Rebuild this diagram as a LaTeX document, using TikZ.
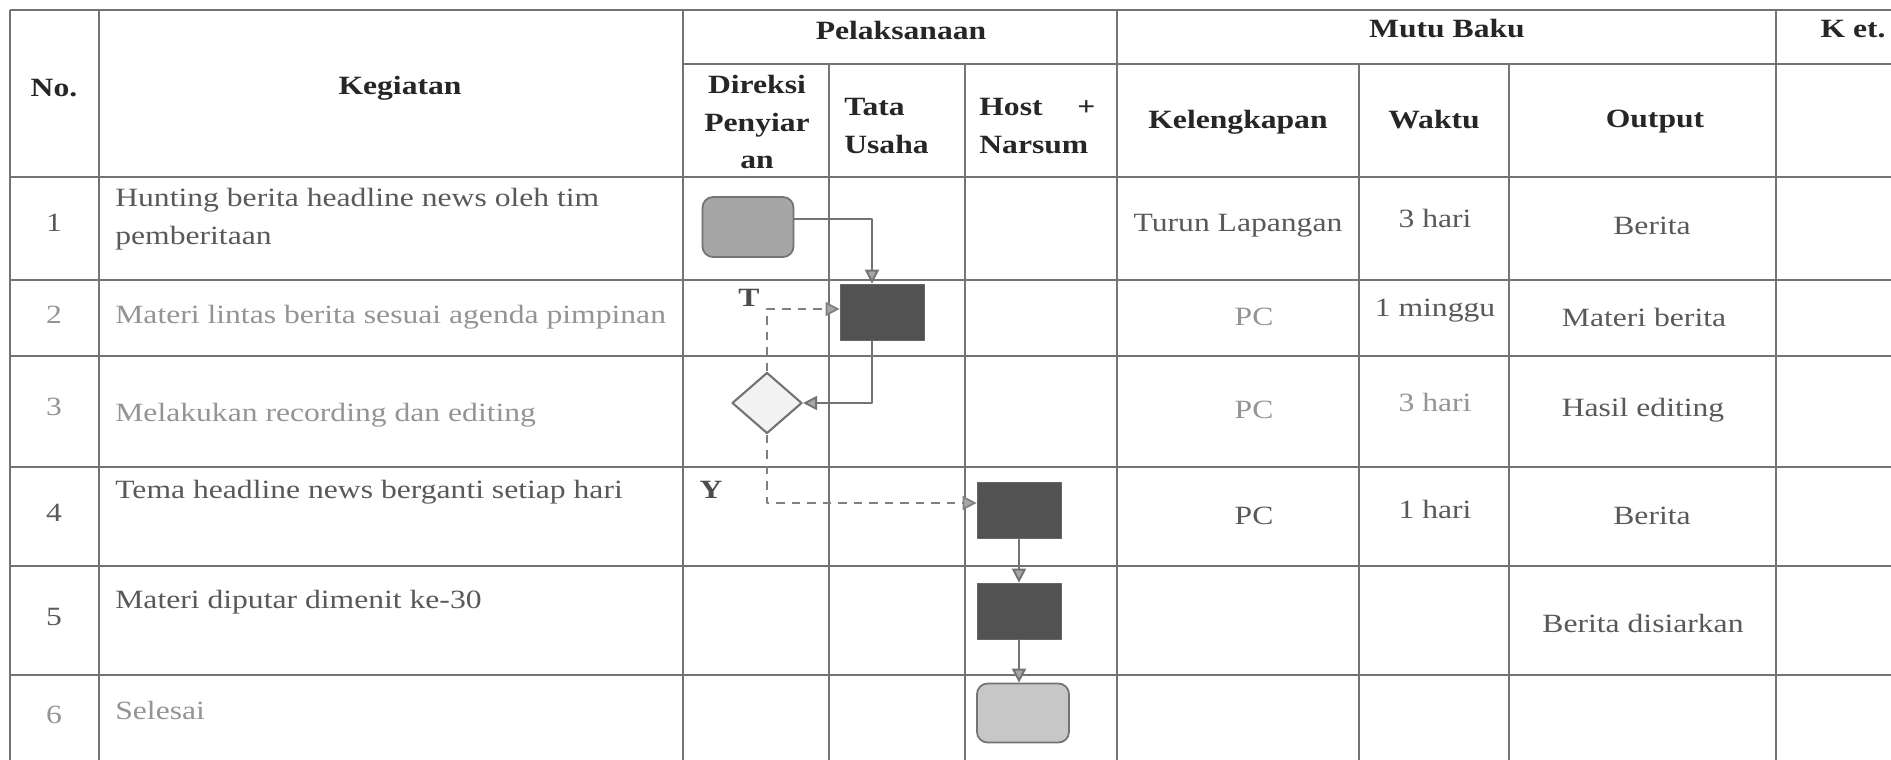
\documentclass[tikz,border=0pt]{standalone}
\usepackage{fontspec}
\setmainfont{Liberation Serif}[FakeStretch=1.2]
\usetikzlibrary{arrows.meta,shapes.geometric}

\begin{document}
\begin{tikzpicture}[x=0.02cm,y=-0.02cm,line join=round,
    font=\fontsize{15}{21.5}\selectfont,
    garis/.style={line width=0.8pt,black!55},
    judul/.style={font=\fontsize{15}{21.5}\selectfont\bfseries,text=black!85,
                  align=center,inner sep=0pt},
    teks/.style={text=black!65,inner sep=0pt},
    pudar/.style={text=black!42,inner sep=0pt},
    mulai/.style={draw=black!55,line width=1pt,rounded corners=6pt,fill=black!35,
                  minimum width=1.82cm,minimum height=1.2cm,inner sep=0pt},
    proses/.style={draw=black!60,fill=black!68,inner sep=0pt,
                   minimum width=1.68cm,minimum height=1.12cm},
    keputusan/.style={diamond,draw=black!55,line width=1.2pt,fill=black!5,inner sep=0pt,
                      minimum width=1.4cm,minimum height=1.22cm},
    akhir/.style={draw=black!55,line width=1pt,rounded corners=6pt,fill=black!22,
                  minimum width=1.84cm,minimum height=1.18cm,inner sep=0pt},
    alur/.style={line width=1.1pt,black!55,
                 -{Triangle[length=0.28cm,width=0.28cm,fill=black!35]}},
    alurputus/.style={alur,line width=1pt,black!50,dash pattern=on 0.17cm off 0.14cm}]

  \useasboundingbox (0,0) rectangle (1891,760);
  \fill[white] (0,0) rectangle (1891,760);
  \clip (0,0) rectangle (1891,760);

  % ---- garis tabel ----------------------------------------------------------
  \draw[garis] (10,10) -- (1920,10);
  \draw[garis] (683,64) -- (1920,64);
  \draw[garis] (10,177) -- (1920,177);
  \draw[garis] (10,280) -- (1920,280);
  \draw[garis] (10,356) -- (1920,356);
  \draw[garis] (10,467) -- (1920,467);
  \draw[garis] (10,566) -- (1920,566);
  \draw[garis] (10,675) -- (1920,675);

  \draw[garis] (10,10) -- (10,780);
  \draw[garis] (99,10) -- (99,780);
  \draw[garis] (683,10) -- (683,780);
  \draw[garis] (829,64) -- (829,780);
  \draw[garis] (965,64) -- (965,780);
  \draw[garis] (1117,10) -- (1117,780);
  \draw[garis] (1359,64) -- (1359,780);
  \draw[garis] (1509,64) -- (1509,780);
  \draw[garis] (1776,10) -- (1776,780);

  % ---- kepala tabel ---------------------------------------------------------
  \node[judul] (hNo)   at (54,88)    {No.};
  \node[judul] (hKeg)  at (400,88)   {Kegiatan};
  \node[judul] (hPel)  at (901,30)   {Pelaksanaan};
  \node[judul] (hMutu) at (1447,29)  {Mutu Baku};
  \node[judul] (hKet)  at (1853,29)  {K et.};
  \node[judul] (hDir)  at (757,122)  {Direksi\\Penyiar\\an};
  \node[judul,anchor=west,align=left] (hTU) at (844,126) {Tata\\Usaha};
  \node[judul,anchor=west,align=left] (hHost) at (979,126)
       {\makebox[2.32cm][l]{Host\hfill+}\\Narsum};
  \node[judul] (hKel)  at (1238,122) {Kelengkapan};
  \node[judul] (hWkt)  at (1434,120) {Waktu};
  \node[judul] (hOut)  at (1655,122) {Output};

  % ---- isi baris ------------------------------------------------------------
  \node[teks]  (no1) at (54,223) {1};
  \node[teks,anchor=west,align=left] (keg1) at (115,219)
       {Hunting berita headline news oleh tim\\pemberitaan};
  \node[teks]  (kel1) at (1238,226) {Turun Lapangan};
  \node[teks]  (wkt1) at (1435,218) {3 hari};
  \node[teks]  (out1) at (1652,226) {Berita};

  \node[pudar] (no2) at (54,315) {2};
  \node[pudar,anchor=west] (keg2) at (115,317) {Materi lintas berita sesuai agenda pimpinan};
  \node[pudar] (kel2) at (1254,317) {PC};
  \node[teks]  (wkt2) at (1435,311) {1 minggu};
  \node[teks]  (out2) at (1644,317) {Materi berita};

  \node[pudar] (no3) at (54,407) {3};
  \node[pudar,anchor=west] (keg3) at (115,415) {Melakukan recording dan editing};
  \node[pudar] (kel3) at (1254,410) {PC};
  \node[pudar] (wkt3) at (1435,402) {3 hari};
  \node[teks]  (out3) at (1643,410) {Hasil editing};

  \node[teks]  (no4) at (54,513) {4};
  \node[teks,anchor=west] (keg4) at (115,492) {Tema headline news berganti setiap hari};
  \node[teks]  (kel4) at (1254,516) {PC};
  \node[teks]  (wkt4) at (1435,509) {1 hari};
  \node[teks]  (out4) at (1652,516) {Berita};

  \node[teks]  (no5) at (54,617) {5};
  \node[teks,anchor=west] (keg5) at (115,602) {Materi diputar dimenit ke-30};
  \node[teks]  (out5) at (1643,623) {Berita disiarkan};

  \node[pudar] (no6) at (54,715) {6};
  \node[pudar,anchor=west] (keg6) at (115,710) {Selesai};

  % ---- bagan alir -----------------------------------------------------------
  \node[mulai]     (start) at (748,227)  {};
  \node[proses]    (tu)    at (882,312)  {};
  \node[keputusan] (kep)   at (767,403)  {};
  \node[proses]    (host1) at (1019,510) {};
  \node[proses]    (host2) at (1019,611) {};
  \node[akhir]     (stop)  at (1023,713) {};

  \node[judul,text=black!70] (lblT) at (749,298) {T};
  \node[judul,text=black!70] (lblY) at (711,490) {Y};

  \draw[alur] ([yshift=0.16cm]start.east) -| ([xshift=-0.2cm]tu.north);
  \draw[alur] ([xshift=-0.2cm]tu.south) |- (kep.east);
  \draw[alurputus] (kep.north) |- ([yshift=0.06cm]tu.west);
  \draw[alurputus] (kep.south) |- ([yshift=0.14cm]host1.west);
  \draw[alur] (host1.south) -- (host1.south |- host2.north);
  \draw[alur] (host2.south) -- (host2.south |- stop.north);

\end{tikzpicture}
\end{document}
